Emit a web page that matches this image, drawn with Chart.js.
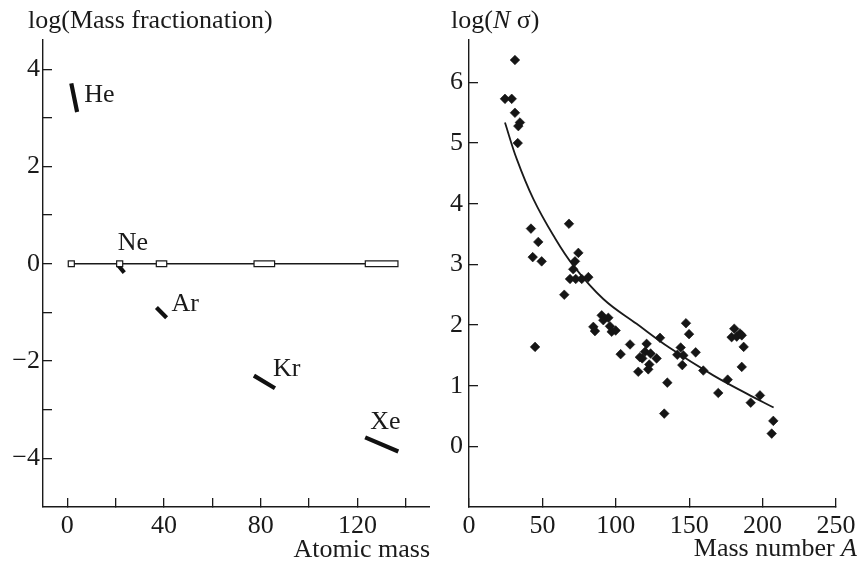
<!DOCTYPE html>
<html><head><meta charset="utf-8">
<script src="https://cdn.jsdelivr.net/npm/chart.js@4.4.1/dist/chart.umd.min.js"></script>
<style>
html,body{margin:0;padding:0;background:#fff;}
#wrap{position:relative;width:859px;height:565px;overflow:hidden;background:#fff;}
canvas{position:absolute;top:0;}
#cl{left:0;} #cr{left:430px;}
</style></head><body>
<div id="wrap"><canvas id="cl" width="430" height="565"></canvas><canvas id="cr" width="429" height="565"></canvas></div>
<script>
// ---------- Left panel data ----------
const elements   = ['He', 'Ne', 'Ar', 'Kr', 'Xe'];
const rangeStart = [0.2, 20.2, 36.6, 77.0, 123.0];
const rangeEnd   = [3.2, 23.2, 41.4, 86.0, 137.0];
const segX1 = [1.7, 20.9, 36.9, 77.2, 123.2];
const segY1 = [3.71, -0.02, -0.90, -2.30, -3.57];
const segX2 = [4.1, 23.6, 41.1, 85.9, 136.9];
const segY2 = [3.12, -0.18, -1.11, -2.56, -3.86];
const leftXTicks  = [0, 20, 40, 60, 80, 100, 120, 140];
const leftXLabels = [0, 40, 80, 120];
const leftYTicks  = [-4, -3, -2, -1, 0, 1, 2, 3, 4];
const leftYLabels = [-4, -2, 0, 2, 4];

// ---------- Right panel data ----------
const massA = [24.5, 29.1, 31.3, 31.3, 34.7, 33.6, 33.2, 42.2, 43.4, 47.2, 49.5, 45.0,
  68.1, 64.9, 72.2, 74.5, 71.0, 68.8, 72.7, 76.8, 81.3, 84.7, 85.8, 90.4, 91.5, 94.9,
  96.0, 97.2, 99.9, 103.3, 109.7, 115.3, 116.4, 118.0, 119.9, 121.0, 122.1, 122.8,
  123.7, 127.8, 130.1, 135.1, 133.0, 141.9, 144.2, 146.0, 145.3, 147.8, 149.9, 154.4,
  159.6, 169.8, 176.2, 178.9, 180.7, 182.4, 184.6, 185.8, 187.1, 185.8, 198.2, 191.9,
  207.3, 206.2];
const logNs = [5.73, 5.73, 6.37, 5.50, 5.34, 5.28, 5.00, 3.59, 3.12, 3.37, 3.05, 1.64,
  3.67, 2.50, 3.05, 3.19, 2.92, 2.76, 2.76, 2.76, 2.79, 1.97, 1.90, 2.16, 2.08, 2.12,
  1.98, 1.89, 1.91, 1.52, 1.68, 1.23, 1.47, 1.45, 1.56, 1.69, 1.27, 1.35,
  1.53, 1.45, 1.79, 1.05, 0.54, 1.51, 1.63, 1.50, 1.34, 2.03, 1.85, 1.55,
  1.25, 0.88, 1.10, 1.80, 1.94, 1.81, 1.86, 1.83, 1.64, 1.31, 0.84, 0.72,
  0.42, 0.21];
const fitA = [24.5, 32.5, 43.8, 57.4, 71.1, 91.5, 114.2, 136.9, 166.4, 189.2, 207.5];
const fitY = [5.34, 4.74, 4.08, 3.48, 2.98, 2.43, 2.02, 1.62, 1.17, 0.87, 0.64];
const rightXTicks = [0, 50, 100, 150, 200, 250];
const rightYTicks = [0, 1, 2, 3, 4, 5, 6];

// ---------- shared style ----------
const INK = '#1a1a1a';
const FONT = '"Liberation Serif", "Times New Roman", serif';
const FS = 26;
const fmt = v => (v < 0 ? '\u2212' + Math.abs(v) : String(v));

function gapped(pairs) { // pairs of [x1,y1,x2,y2] -> line data with breaks
  const out = [];
  pairs.forEach(p => { out.push({x: p[0], y: p[1]}, {x: p[2], y: p[3]}, {x: p[2], y: null}); });
  return out;
}
const axisCommon = {
  grid: {drawOnChartArea: false, drawTicks: true, tickLength: -9, color: INK, lineWidth: 1.3},
  border: {display: true, color: INK, width: 1.4},
};
const fitX = s => { s.height = 58; s.paddingLeft = 0; s.paddingRight = 0; };

// ---------- text plugin ----------
const textPlugin = {
  id: 'texts',
  afterDraw(chart, args, opts) {
    const ctx = chart.ctx;
    ctx.save();
    ctx.fillStyle = INK;
    ctx.textBaseline = 'alphabetic';
    (opts.items || []).forEach(it => {
      let x = it.x;
      const parts = it.parts.map(p => {
        ctx.font = (p.italic ? 'italic ' : '') + FS + 'px ' + FONT;
        return {p, w: ctx.measureText(p.t).width};
      });
      const total = parts.reduce((s, q) => s + q.w, 0);
      if (it.align === 'right') x -= total;
      parts.forEach(q => {
        ctx.font = (q.p.italic ? 'italic ' : '') + FS + 'px ' + FONT;
        ctx.textAlign = 'left';
        ctx.fillText(q.p.t, x, it.y);
        x += q.w;
      });
    });
    if (opts.elements) {
      const xs = chart.scales.x, ys = chart.scales.y;
      ctx.font = FS + 'px ' + FONT;
      ctx.textAlign = 'left';
      const off = [[13, 19], [0, -15], [15, 3], [19, 0], [5, -8]];
      elements.forEach((name, i) => {
        const px = xs.getPixelForValue(segX1[i]);
        const py = ys.getPixelForValue(segY1[i]);
        ctx.fillText(name, px + off[i][0], py + off[i][1]);
      });
    }
    ctx.restore();
  }
};

// ---------- left chart ----------
new Chart(document.getElementById('cl'), {
  type: 'scatter',
  data: {datasets: [
    {type: 'line', order: 1, data: gapped(rangeStart.map((s, i) => [s + 0.5, 0, rangeEnd[i] - 0.5, 0])),
      borderColor: '#ffffff', borderWidth: 4.4, borderCapStyle: 'butt', pointRadius: 0, spanGaps: false},
    {type: 'line', order: 2, data: gapped(rangeStart.map((s, i) => [s, 0, rangeEnd[i], 0])),
      borderColor: INK, borderWidth: 7, borderCapStyle: 'butt', pointRadius: 0, spanGaps: false},
    {type: 'line', order: 3, data: gapped(segX1.map((v, i) => [v, segY1[i], segX2[i], segY2[i]])),
      borderColor: '#111', borderWidth: 4.2, borderCapStyle: 'butt', pointRadius: 0, spanGaps: false},
    {type: 'line', order: 4, data: [{x: rangeStart[0] + 1.5, y: 0}, {x: rangeEnd[4] - 1.5, y: 0}],
      borderColor: INK, borderWidth: 1.6, pointRadius: 0},
  ]},
  options: {
    responsive: false, animation: false, devicePixelRatio: 1,
    layout: {padding: {top: 40, right: 0, left: 0, bottom: 0}},
    plugins: {legend: {display: false}, tooltip: {enabled: false},
      texts: {elements: true, items: [
        {x: 28, y: 28, parts: [{t: 'log(Mass fractionation)'}]},
        {x: 430, y: 557, align: 'right', parts: [{t: 'Atomic mass'}]},
      ]}},
    scales: {
      x: Object.assign({}, axisCommon, {
        type: 'linear', min: -10, max: 150,
        afterBuildTicks: s => { s.ticks = leftXTicks.map(v => ({value: v})); },
        afterFit: fitX,
        ticks: {autoSkip: false, maxRotation: 0, padding: 13, color: INK, font: {family: FONT, size: FS},
          callback: v => leftXLabels.includes(v) ? fmt(v) : ''},
      }),
      y: Object.assign({}, axisCommon, {
        type: 'linear', min: -5, max: 4.6,
        afterBuildTicks: s => { s.ticks = leftYTicks.map(v => ({value: v})); },
        afterFit: s => { s.width = 43; },
        ticks: {autoSkip: false, padding: 12, color: INK, font: {family: FONT, size: FS},
          callback: v => leftYLabels.includes(v) ? fmt(v) : ''},
      }),
    }
  },
  plugins: [textPlugin]
});

// ---------- right chart ----------
new Chart(document.getElementById('cr'), {
  type: 'scatter',
  data: {datasets: [
    {type: 'scatter', order: 1, data: massA.map((a, i) => ({x: a, y: logNs[i]})),
      pointStyle: 'rectRot', pointRadius: 4.8, backgroundColor: '#151515', borderColor: '#151515', borderWidth: 0.6},
    {type: 'line', order: 2, data: fitA.map((a, i) => ({x: a, y: fitY[i]})),
      borderColor: INK, borderWidth: 1.8, pointRadius: 0, tension: 0.4},
  ]},
  options: {
    responsive: false, animation: false, devicePixelRatio: 1,
    layout: {padding: {top: 40, right: 23, left: 0, bottom: 0}},
    plugins: {legend: {display: false}, tooltip: {enabled: false},
      texts: {items: [
        {x: 21, y: 28, parts: [{t: 'log('}, {t: 'N', italic: true}, {t: ' \u03c3)'}]},
        {x: 427, y: 556, align: 'right', parts: [{t: 'Mass number '}, {t: 'A', italic: true}]},
      ]}},
    scales: {
      x: Object.assign({}, axisCommon, {
        type: 'linear', min: 0, max: 250,
        afterBuildTicks: s => { s.ticks = rightXTicks.map(v => ({value: v})); },
        afterFit: fitX,
        ticks: {autoSkip: false, maxRotation: 0, padding: 13, color: INK, font: {family: FONT, size: FS},
          callback: v => fmt(v)},
      }),
      y: Object.assign({}, axisCommon, {
        type: 'linear', min: -1, max: 6.7,
        afterBuildTicks: s => { s.ticks = rightYTicks.map(v => ({value: v})); },
        afterFit: s => { s.width = 39; },
        ticks: {autoSkip: false, padding: 15, color: INK, font: {family: FONT, size: FS},
          callback: v => fmt(v)},
      }),
    }
  },
  plugins: [textPlugin]
});
</script>
</body></html>
